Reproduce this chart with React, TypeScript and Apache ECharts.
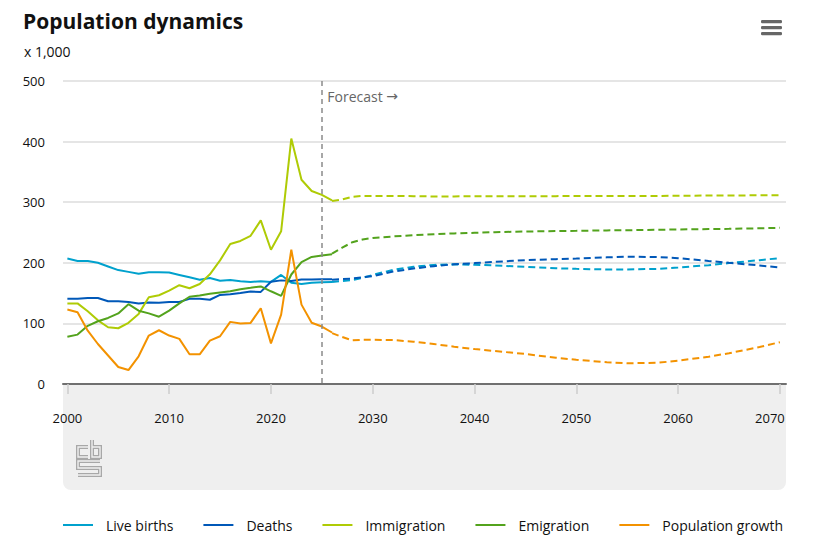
import React, { useEffect, useRef } from "react";
import * as echarts from "echarts";

// ---------- data (x 1,000) ----------
const histYears = [2000, 2001, 2002, 2003, 2004, 2005, 2006, 2007, 2008, 2009, 2010, 2011, 2012, 2013, 2014, 2015, 2016, 2017, 2018, 2019, 2020, 2021, 2022, 2023, 2024, 2025, 2026];
const birthsHist = [207, 203, 203, 200, 194, 188, 185, 182, 184.5, 184.5, 184, 180, 176, 172, 175, 170.5, 171.5, 169.5, 168.5, 169.5, 168.5, 180, 167, 165, 167, 168, 168.5];
const deathsHist = [140.5, 140.5, 142, 142, 136.6, 136.6, 135.5, 133, 134.4, 134, 135.5, 135.5, 140.5, 140.5, 139, 147, 148, 150, 152.6, 152, 168.6, 171, 170, 172.5, 172.5, 173, 173];
const immigrationHist = [133, 133, 120, 105, 93.7, 92, 101, 115.7, 143, 146.5, 154, 163, 158, 165, 181, 204, 231, 236, 244.6, 270, 221.5, 252, 405, 337, 318.5, 312, 303];
const emigrationHist = [78, 81.5, 96, 103.6, 109, 116.5, 131.7, 121, 116.5, 111, 121, 133, 144, 146, 149, 151, 153, 156.5, 158.7, 161, 153, 145.5, 180.7, 201, 209.6, 212, 214];
const growthHist = [123, 118.5, 88, 66, 47, 28, 23, 45.7, 80, 88.7, 80, 74.4, 49, 49, 71.6, 78.8, 102.5, 99.7, 100.8, 125, 67, 114.6, 221.5, 131, 101, 94.8, 85];

const fcYears = [2026, 2027, 2028, 2029, 2030, 2032, 2034, 2036, 2038, 2040, 2042, 2045, 2048, 2050, 2053, 2055, 2058, 2060, 2063, 2065, 2068, 2070];
const birthsFc = [168.5, 170, 171.5, 175, 180, 188.5, 193.5, 196.5, 197.5, 196.7, 195.6, 193.4, 191, 190, 189, 189, 190, 192.3, 196, 199.5, 204.4, 207.7];
const deathsFc = [172, 173, 174, 176, 178, 185.5, 190.5, 194.5, 197.5, 199.5, 201.6, 204.4, 206, 207, 209, 210, 209.5, 207.7, 203, 200, 195.6, 192.3];
const immigrationFc = [302, 304.5, 309, 310.4, 310.4, 310.4, 310, 309.5, 309.5, 310, 310, 310, 310, 310.4, 310.4, 310.4, 310.4, 310.6, 311, 311, 311.4, 311.5];
const emigrationFc = [215, 225, 234, 238.5, 241, 243.5, 245.5, 247, 248.5, 249.5, 250.5, 251.6, 252.3, 252.7, 253.5, 253.8, 254.5, 255, 255.6, 256, 257, 257.7];
const growthFc = [84, 77.5, 72, 73, 73, 72.5, 69.8, 66, 61.5, 57.7, 54.4, 49.5, 43.4, 40, 35.8, 34.3, 35, 38.5, 45, 50.8, 61, 69];

const xTickValues = [2000, 2010, 2020, 2030, 2040, 2050, 2060, 2070];
const forecastStart = 2025;
const seriesNames = ["Live births", "Deaths", "Immigration", "Emigration", "Population growth"];
const seriesColors = ["#00a1cd", "#0058b8", "#afcb05", "#53a31d", "#f39200"];

const FONT = "'Open Sans', 'Noto Sans', sans-serif";

export default function App() {
  const ref = useRef<HTMLDivElement>(null);

  useEffect(() => {
    if (!ref.current) return;
    const chart = echarts.init(ref.current, null, { renderer: "svg" });

    const hist = [birthsHist, deathsHist, immigrationHist, emigrationHist, growthHist];
    const fc = [birthsFc, deathsFc, immigrationFc, emigrationFc, growthFc];

    const series: any[] = [];
    seriesNames.forEach((name, k) => {
      const s: any = {
        name,
        type: "line",
        data: histYears.map((y, i) => [y, hist[k][i]]),
        showSymbol: false,
        symbol: "none",
        lineStyle: { width: 2, color: seriesColors[k] },
        itemStyle: { color: seriesColors[k] },
        z: 3,
      };
      if (k === 0) {
        s.markLine = {
          silent: true,
          symbol: ["none", "none"],
          label: { show: false },
          lineStyle: { color: "#8a8a8a", type: [5, 4], width: 1.5 },
          data: [[{ coord: [forecastStart, 500] }, { coord: [forecastStart, 0] }]],
        };
        s.markPoint = {
          silent: true,
          symbol: "circle",
          symbolSize: 1,
          itemStyle: { color: "rgba(0,0,0,0)" },
          label: {
            show: true,
            position: "right",
            distance: 5,
            offset: [0, 15],
            formatter: "Forecast {a|→}",
            color: "#666",
            fontSize: 14,
            fontFamily: FONT,
            rich: { a: { fontFamily: "'DejaVu Sans', sans-serif", fontSize: 14, color: "#666" } },
          },
          data: [{ coord: [forecastStart, 500] }],
        };
      }
      series.push(s);
      series.push({
        name,
        type: "line",
        data: fcYears.map((y, i) => [y, fc[k][i]]),
        showSymbol: false,
        symbol: "none",
        lineStyle: { width: 2, color: seriesColors[k], type: [7, 4] },
        itemStyle: { color: seriesColors[k] },
        z: 3,
      });
    });

    const logoStroke = (pts: number[][]) => [
      { type: "polyline", shape: { points: pts }, style: { stroke: "#a8a8a8", lineWidth: 4, fill: null, lineJoin: "miter" }, z: -5 },
      { type: "polyline", shape: { points: pts }, style: { stroke: "#efefef", lineWidth: 1.4, fill: null, lineJoin: "miter" }, z: -4 },
    ];

    chart.setOption({
      animation: false,
      backgroundColor: "#ffffff",
      textStyle: { fontFamily: FONT },
      title: [
        {
          text: "Population dynamics",
          left: 18,
          top: 5,
          textStyle: { fontSize: 21, fontWeight: "bold", color: "#111", fontFamily: FONT },
        },
        {
          text: "x 1,000",
          left: 19,
          top: 39,
          textStyle: { fontSize: 14, fontWeight: "normal", color: "#111", fontFamily: FONT },
        },
      ],
      legend: {
        data: seriesNames.map((n) => ({ name: n, icon: "rect" })),
        left: 58,
        top: 513,
        itemWidth: 30,
        itemHeight: 2,
        itemGap: 30,
        textStyle: { fontSize: 14, color: "#111", fontFamily: FONT, padding: [0, 0, 0, 8] },
        selectedMode: false,
      },
      grid: { left: 63, right: 48, top: 81, bottom: 164, containLabel: false },
      xAxis: {
        type: "value",
        min: 1999.57,
        max: 2070.6,
        axisLine: { show: true, lineStyle: { color: "#707070", width: 2 } },
        axisTick: { show: true, customValues: xTickValues, length: 10, lineStyle: { color: "#cccccc", width: 1.5 } },
        axisLabel: {
          customValues: xTickValues,
          margin: 27,
          fontSize: 13,
          color: "#111",
          fontFamily: FONT,
          formatter: (v: number) => (v === 2070 ? "{last|" + v + "}" : String(v)),
          rich: { last: { padding: [0, 20, 0, 0], fontSize: 13, color: "#111", fontFamily: FONT } },
        },
        splitLine: { show: false },
      },
      yAxis: {
        type: "value",
        min: 0,
        max: 500,
        interval: 100,
        axisLine: { show: false },
        axisTick: { show: false },
        axisLabel: { margin: 18, fontSize: 13, color: "#111", fontFamily: FONT, padding: [7, 0, 0, 0] },
        splitLine: { lineStyle: { color: "#dddddd", width: 1.5 } },
      },
      graphic: [
        {
          type: "rect",
          shape: { x: 63, y: 384, width: 723, height: 106, r: [0, 0, 8, 8] },
          style: { fill: "#efefef" },
          z: -10,
          silent: true,
        },
        ...logoStroke([[88, 447], [78, 447], [78, 457], [88, 457]]),
        ...logoStroke([[92, 440], [92, 457], [100, 457], [100, 447], [92, 447]]),
        ...logoStroke([[100, 461], [78, 461], [78, 468], [100, 468], [100, 475], [78, 475]]),
        { type: "rect", shape: { x: 761, y: 20, width: 21, height: 3.3, r: 1.2 }, style: { fill: "#666" } },
        { type: "rect", shape: { x: 761, y: 26, width: 21, height: 3.3, r: 1.2 }, style: { fill: "#666" } },
        { type: "rect", shape: { x: 761, y: 32, width: 21, height: 3.3, r: 1.2 }, style: { fill: "#666" } },
      ],
      series,
    });

    return () => chart.dispose();
  }, []);

  return (
    <div
      ref={ref}
      style={{ position: "fixed", left: 0, top: 0, width: 834, height: 548, background: "#fff" }}
    />
  );
}
